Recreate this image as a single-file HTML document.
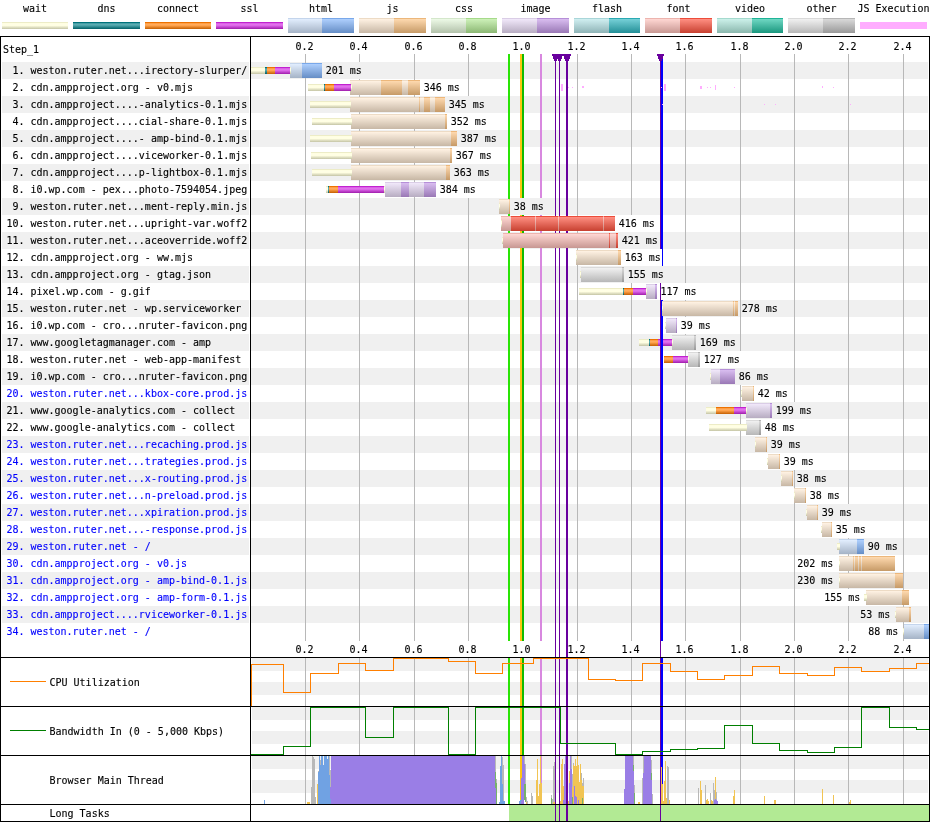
<!DOCTYPE html>
<html lang="en"><head><meta charset="utf-8"><title>Waterfall</title>
<style>html,body{margin:0;padding:0;background:#fff}body{width:930px;height:822px;overflow:hidden}svg{display:block;will-change:transform}text{font-family:"DejaVu Sans Mono","Liberation Mono",monospace;font-size:10px;fill:#000;stroke:#000;stroke-width:0.12px}.b text{fill:#00f}.c{text-anchor:middle}</style></head><body>
<svg width="930" height="822" viewBox="0 0 930 822" shape-rendering="crispEdges">
<defs><linearGradient id="g0" x1="0" y1="0" x2="0" y2="1"><stop offset="0" stop-color="rgb(237,236,199)"/><stop offset="0.1429" stop-color="rgb(237,236,199)"/><stop offset="0.1429" stop-color="rgb(255,254,223)"/><stop offset="0.357" stop-color="rgb(255,254,229)"/><stop offset="0.5" stop-color="rgb(255,254,226)"/><stop offset="1" stop-color="rgb(196,196,165)"/></linearGradient><linearGradient id="g1" x1="0" y1="0" x2="0" y2="1"><stop offset="0" stop-color="rgb(0,114,123)"/><stop offset="0.1429" stop-color="rgb(0,114,123)"/><stop offset="0.1429" stop-color="rgb(56,152,159)"/><stop offset="0.357" stop-color="rgb(92,171,176)"/><stop offset="0.5" stop-color="rgb(76,163,169)"/><stop offset="1" stop-color="rgb(0,95,102)"/></linearGradient><linearGradient id="g2" x1="0" y1="0" x2="0" y2="1"><stop offset="0" stop-color="rgb(237,114,0)"/><stop offset="0.1429" stop-color="rgb(237,114,0)"/><stop offset="0.1429" stop-color="rgb(255,152,56)"/><stop offset="0.357" stop-color="rgb(255,171,92)"/><stop offset="0.5" stop-color="rgb(255,163,76)"/><stop offset="1" stop-color="rgb(196,95,0)"/></linearGradient><linearGradient id="g3" x1="0" y1="0" x2="0" y2="1"><stop offset="0" stop-color="rgb(193,34,207)"/><stop offset="0.1429" stop-color="rgb(193,34,207)"/><stop offset="0.1429" stop-color="rgb(218,85,230)"/><stop offset="0.357" stop-color="rgb(224,115,235)"/><stop offset="0.5" stop-color="rgb(221,102,233)"/><stop offset="1" stop-color="rgb(159,28,172)"/></linearGradient><linearGradient id="g4" x1="0" y1="0" x2="0" y2="1"><stop offset="0" stop-color="rgb(196,213,236)"/><stop offset="0.06667" stop-color="rgb(196,213,236)"/><stop offset="0.06667" stop-color="rgb(226,238,254)"/><stop offset="1" stop-color="rgb(165,179,198)"/></linearGradient><linearGradient id="g5" x1="0" y1="0" x2="0" y2="1"><stop offset="0" stop-color="rgb(121,168,234)"/><stop offset="0.06667" stop-color="rgb(121,168,234)"/><stop offset="0.06667" stop-color="rgb(174,207,253)"/><stop offset="1" stop-color="rgb(101,141,197)"/></linearGradient><linearGradient id="g6" x1="0" y1="0" x2="0" y2="1"><stop offset="0" stop-color="rgb(237,219,197)"/><stop offset="0.06667" stop-color="rgb(237,219,197)"/><stop offset="0.06667" stop-color="rgb(255,242,227)"/><stop offset="1" stop-color="rgb(199,183,165)"/></linearGradient><linearGradient id="g7" x1="0" y1="0" x2="0" y2="1"><stop offset="0" stop-color="rgb(236,183,123)"/><stop offset="0.06667" stop-color="rgb(236,183,123)"/><stop offset="0.06667" stop-color="rgb(254,217,175)"/><stop offset="1" stop-color="rgb(198,154,103)"/></linearGradient><linearGradient id="g8" x1="0" y1="0" x2="0" y2="1"><stop offset="0" stop-color="rgb(212,231,203)"/><stop offset="0.06667" stop-color="rgb(212,231,203)"/><stop offset="0.06667" stop-color="rgb(237,250,231)"/><stop offset="1" stop-color="rgb(178,193,170)"/></linearGradient><linearGradient id="g9" x1="0" y1="0" x2="0" y2="1"><stop offset="0" stop-color="rgb(166,218,138)"/><stop offset="0.06667" stop-color="rgb(166,218,138)"/><stop offset="0.06667" stop-color="rgb(205,241,185)"/><stop offset="1" stop-color="rgb(139,183,115)"/></linearGradient><linearGradient id="g10" x1="0" y1="0" x2="0" y2="1"><stop offset="0" stop-color="rgb(218,205,230)"/><stop offset="0.06667" stop-color="rgb(218,205,230)"/><stop offset="0.06667" stop-color="rgb(241,232,250)"/><stop offset="1" stop-color="rgb(183,172,193)"/></linearGradient><linearGradient id="g11" x1="0" y1="0" x2="0" y2="1"><stop offset="0" stop-color="rgb(182,143,216)"/><stop offset="0.06667" stop-color="rgb(182,143,216)"/><stop offset="0.06667" stop-color="rgb(217,189,240)"/><stop offset="1" stop-color="rgb(153,120,181)"/></linearGradient><linearGradient id="g12" x1="0" y1="0" x2="0" y2="1"><stop offset="0" stop-color="rgb(169,214,217)"/><stop offset="0.06667" stop-color="rgb(169,214,217)"/><stop offset="0.06667" stop-color="rgb(208,239,241)"/><stop offset="1" stop-color="rgb(142,179,182)"/></linearGradient><linearGradient id="g13" x1="0" y1="0" x2="0" y2="1"><stop offset="0" stop-color="rgb(42,170,179)"/><stop offset="0.06667" stop-color="rgb(42,170,179)"/><stop offset="0.06667" stop-color="rgb(118,208,215)"/><stop offset="1" stop-color="rgb(35,143,151)"/></linearGradient><linearGradient id="g14" x1="0" y1="0" x2="0" y2="1"><stop offset="0" stop-color="rgb(237,180,174)"/><stop offset="0.06667" stop-color="rgb(237,180,174)"/><stop offset="0.06667" stop-color="rgb(255,215,211)"/><stop offset="1" stop-color="rgb(199,151,146)"/></linearGradient><linearGradient id="g15" x1="0" y1="0" x2="0" y2="1"><stop offset="0" stop-color="rgb(237,76,58)"/><stop offset="0.06667" stop-color="rgb(237,76,58)"/><stop offset="0.06667" stop-color="rgb(255,143,130)"/><stop offset="1" stop-color="rgb(199,64,48)"/></linearGradient><linearGradient id="g16" x1="0" y1="0" x2="0" y2="1"><stop offset="0" stop-color="rgb(165,218,206)"/><stop offset="0.06667" stop-color="rgb(165,218,206)"/><stop offset="0.06667" stop-color="rgb(204,241,234)"/><stop offset="1" stop-color="rgb(138,183,173)"/></linearGradient><linearGradient id="g17" x1="0" y1="0" x2="0" y2="1"><stop offset="0" stop-color="rgb(31,180,151)"/><stop offset="0.06667" stop-color="rgb(31,180,151)"/><stop offset="0.06667" stop-color="rgb(111,215,195)"/><stop offset="1" stop-color="rgb(26,151,126)"/></linearGradient><linearGradient id="g18" x1="0" y1="0" x2="0" y2="1"><stop offset="0" stop-color="rgb(218,218,218)"/><stop offset="0.06667" stop-color="rgb(218,218,218)"/><stop offset="0.06667" stop-color="rgb(241,241,241)"/><stop offset="1" stop-color="rgb(183,183,183)"/></linearGradient><linearGradient id="g19" x1="0" y1="0" x2="0" y2="1"><stop offset="0" stop-color="rgb(182,182,182)"/><stop offset="0.06667" stop-color="rgb(182,182,182)"/><stop offset="0.06667" stop-color="rgb(217,217,217)"/><stop offset="1" stop-color="rgb(153,153,153)"/></linearGradient><linearGradient id="g20" x1="0" y1="0" x2="0" y2="1"><stop offset="0" stop-color="rgb(237,156,147)"/><stop offset="0.06667" stop-color="rgb(237,156,147)"/><stop offset="0.06667" stop-color="rgb(255,198,192)"/><stop offset="1" stop-color="rgb(199,131,123)"/></linearGradient></defs>
<rect x="0" y="0" width="930" height="822" fill="#fff"/>
<text class="c" x="35.0" y="12">wait</text>
<rect x="2" y="22" width="66" height="7" fill="url(#g0)"/>
<text class="c" x="106.5" y="12">dns</text>
<rect x="73" y="22" width="67" height="7" fill="url(#g1)"/>
<text class="c" x="178.0" y="12">connect</text>
<rect x="145" y="22" width="66" height="7" fill="url(#g2)"/>
<text class="c" x="249.5" y="12">ssl</text>
<rect x="216" y="22" width="67" height="7" fill="url(#g3)"/>
<text class="c" x="321.0" y="12">html</text>
<rect x="288" y="18" width="34" height="15" fill="url(#g4)"/>
<rect x="322" y="18" width="32" height="15" fill="url(#g5)"/>
<text class="c" x="392.5" y="12">js</text>
<rect x="359" y="18" width="35" height="15" fill="url(#g6)"/>
<rect x="394" y="18" width="32" height="15" fill="url(#g7)"/>
<text class="c" x="464.0" y="12">css</text>
<rect x="431" y="18" width="35" height="15" fill="url(#g8)"/>
<rect x="466" y="18" width="31" height="15" fill="url(#g9)"/>
<text class="c" x="535.5" y="12">image</text>
<rect x="502" y="18" width="35" height="15" fill="url(#g10)"/>
<rect x="537" y="18" width="32" height="15" fill="url(#g11)"/>
<text class="c" x="607.0" y="12">flash</text>
<rect x="574" y="18" width="35" height="15" fill="url(#g12)"/>
<rect x="609" y="18" width="31" height="15" fill="url(#g13)"/>
<text class="c" x="678.5" y="12">font</text>
<rect x="645" y="18" width="35" height="15" fill="url(#g14)"/>
<rect x="680" y="18" width="32" height="15" fill="url(#g15)"/>
<text class="c" x="750.0" y="12">video</text>
<rect x="717" y="18" width="35" height="15" fill="url(#g16)"/>
<rect x="752" y="18" width="31" height="15" fill="url(#g17)"/>
<text class="c" x="821.5" y="12">other</text>
<rect x="788" y="18" width="35" height="15" fill="url(#g18)"/>
<rect x="823" y="18" width="32" height="15" fill="url(#g19)"/>
<text class="c" x="893.5" y="12">JS Execution</text>
<rect x="860" y="22" width="67" height="7" fill="rgb(255,173,255)"/>
<rect x="2" y="62" width="247" height="17" fill="#f0f0f0"/>
<rect x="251" y="62" width="677" height="17" fill="#f0f0f0"/>
<rect x="2" y="96" width="247" height="17" fill="#f0f0f0"/>
<rect x="251" y="96" width="677" height="17" fill="#f0f0f0"/>
<rect x="2" y="130" width="247" height="17" fill="#f0f0f0"/>
<rect x="251" y="130" width="677" height="17" fill="#f0f0f0"/>
<rect x="2" y="164" width="247" height="17" fill="#f0f0f0"/>
<rect x="251" y="164" width="677" height="17" fill="#f0f0f0"/>
<rect x="2" y="198" width="247" height="17" fill="#f0f0f0"/>
<rect x="251" y="198" width="677" height="17" fill="#f0f0f0"/>
<rect x="2" y="232" width="247" height="17" fill="#f0f0f0"/>
<rect x="251" y="232" width="677" height="17" fill="#f0f0f0"/>
<rect x="2" y="266" width="247" height="17" fill="#f0f0f0"/>
<rect x="251" y="266" width="677" height="17" fill="#f0f0f0"/>
<rect x="2" y="300" width="247" height="17" fill="#f0f0f0"/>
<rect x="251" y="300" width="677" height="17" fill="#f0f0f0"/>
<rect x="2" y="334" width="247" height="17" fill="#f0f0f0"/>
<rect x="251" y="334" width="677" height="17" fill="#f0f0f0"/>
<rect x="2" y="368" width="247" height="17" fill="#f0f0f0"/>
<rect x="251" y="368" width="677" height="17" fill="#f0f0f0"/>
<rect x="2" y="402" width="247" height="17" fill="#f0f0f0"/>
<rect x="251" y="402" width="677" height="17" fill="#f0f0f0"/>
<rect x="2" y="436" width="247" height="17" fill="#f0f0f0"/>
<rect x="251" y="436" width="677" height="17" fill="#f0f0f0"/>
<rect x="2" y="470" width="247" height="17" fill="#f0f0f0"/>
<rect x="251" y="470" width="677" height="17" fill="#f0f0f0"/>
<rect x="2" y="504" width="247" height="17" fill="#f0f0f0"/>
<rect x="251" y="504" width="677" height="17" fill="#f0f0f0"/>
<rect x="2" y="538" width="247" height="17" fill="#f0f0f0"/>
<rect x="251" y="538" width="677" height="17" fill="#f0f0f0"/>
<rect x="2" y="572" width="247" height="17" fill="#f0f0f0"/>
<rect x="251" y="572" width="677" height="17" fill="#f0f0f0"/>
<rect x="2" y="606" width="247" height="17" fill="#f0f0f0"/>
<rect x="251" y="606" width="677" height="17" fill="#f0f0f0"/>
<rect x="252" y="658" width="676" height="13" fill="#f0f0f0"/>
<rect x="252" y="682" width="676" height="13" fill="#f0f0f0"/>
<rect x="252" y="707" width="676" height="13" fill="#f0f0f0"/>
<rect x="252" y="731" width="676" height="13" fill="#f0f0f0"/>
<rect x="252" y="756" width="676" height="13" fill="#f0f0f0"/>
<rect x="252" y="780" width="676" height="13" fill="#f0f0f0"/>
<rect x="305" y="54" width="1" height="587" fill="#b8b8b8"/>
<rect x="305" y="658" width="1" height="146" fill="#b8b8b8"/>
<rect x="359" y="54" width="1" height="587" fill="#b8b8b8"/>
<rect x="359" y="658" width="1" height="146" fill="#b8b8b8"/>
<rect x="414" y="54" width="1" height="587" fill="#b8b8b8"/>
<rect x="414" y="658" width="1" height="146" fill="#b8b8b8"/>
<rect x="468" y="54" width="1" height="587" fill="#b8b8b8"/>
<rect x="468" y="658" width="1" height="146" fill="#b8b8b8"/>
<rect x="522" y="54" width="1" height="587" fill="#b8b8b8"/>
<rect x="522" y="658" width="1" height="146" fill="#b8b8b8"/>
<rect x="577" y="54" width="1" height="587" fill="#b8b8b8"/>
<rect x="577" y="658" width="1" height="146" fill="#b8b8b8"/>
<rect x="631" y="54" width="1" height="587" fill="#b8b8b8"/>
<rect x="631" y="658" width="1" height="146" fill="#b8b8b8"/>
<rect x="685" y="54" width="1" height="587" fill="#b8b8b8"/>
<rect x="685" y="658" width="1" height="146" fill="#b8b8b8"/>
<rect x="740" y="54" width="1" height="587" fill="#b8b8b8"/>
<rect x="740" y="658" width="1" height="146" fill="#b8b8b8"/>
<rect x="794" y="54" width="1" height="587" fill="#b8b8b8"/>
<rect x="794" y="658" width="1" height="146" fill="#b8b8b8"/>
<rect x="848" y="54" width="1" height="587" fill="#b8b8b8"/>
<rect x="848" y="658" width="1" height="146" fill="#b8b8b8"/>
<rect x="903" y="54" width="1" height="587" fill="#b8b8b8"/>
<rect x="903" y="658" width="1" height="146" fill="#b8b8b8"/>
<text class="c" x="304.5" y="50">0.2</text>
<text class="c" x="304.5" y="653">0.2</text>
<text class="c" x="358.5" y="50">0.4</text>
<text class="c" x="358.5" y="653">0.4</text>
<text class="c" x="413.5" y="50">0.6</text>
<text class="c" x="413.5" y="653">0.6</text>
<text class="c" x="467.5" y="50">0.8</text>
<text class="c" x="467.5" y="653">0.8</text>
<text class="c" x="521.5" y="50">1.0</text>
<text class="c" x="521.5" y="653">1.0</text>
<text class="c" x="576.5" y="50">1.2</text>
<text class="c" x="576.5" y="653">1.2</text>
<text class="c" x="630.5" y="50">1.4</text>
<text class="c" x="630.5" y="653">1.4</text>
<text class="c" x="684.5" y="50">1.6</text>
<text class="c" x="684.5" y="653">1.6</text>
<text class="c" x="739.5" y="50">1.8</text>
<text class="c" x="739.5" y="653">1.8</text>
<text class="c" x="793.5" y="50">2.0</text>
<text class="c" x="793.5" y="653">2.0</text>
<text class="c" x="847.5" y="50">2.2</text>
<text class="c" x="847.5" y="653">2.2</text>
<text class="c" x="902.5" y="50">2.4</text>
<text class="c" x="902.5" y="653">2.4</text>
<rect x="251" y="67" width="14" height="7" fill="url(#g0)"/>
<rect x="265" y="67" width="2" height="7" fill="url(#g1)"/>
<rect x="267" y="67" width="8" height="7" fill="url(#g2)"/>
<rect x="275" y="67" width="15" height="7" fill="url(#g3)"/>
<rect x="308" y="84" width="16" height="7" fill="url(#g0)"/>
<rect x="324" y="84" width="1" height="7" fill="url(#g1)"/>
<rect x="325" y="84" width="9" height="7" fill="url(#g2)"/>
<rect x="334" y="84" width="16" height="7" fill="url(#g3)"/>
<rect x="310" y="101" width="40" height="7" fill="url(#g0)"/>
<rect x="312" y="118" width="39" height="7" fill="url(#g0)"/>
<rect x="310" y="135" width="41" height="7" fill="url(#g0)"/>
<rect x="311" y="152" width="40" height="7" fill="url(#g0)"/>
<rect x="312" y="169" width="39" height="7" fill="url(#g0)"/>
<rect x="326" y="186" width="2" height="7" fill="url(#g0)"/>
<rect x="328" y="186" width="1" height="7" fill="url(#g1)"/>
<rect x="329" y="186" width="9" height="7" fill="url(#g2)"/>
<rect x="338" y="186" width="46" height="7" fill="url(#g3)"/>
<rect x="579" y="288" width="44" height="7" fill="url(#g0)"/>
<rect x="623" y="288" width="1" height="7" fill="url(#g1)"/>
<rect x="624" y="288" width="9" height="7" fill="url(#g2)"/>
<rect x="633" y="288" width="13" height="7" fill="url(#g3)"/>
<rect x="639" y="339" width="10" height="7" fill="url(#g0)"/>
<rect x="649" y="339" width="1" height="7" fill="url(#g1)"/>
<rect x="650" y="339" width="8" height="7" fill="url(#g2)"/>
<rect x="658" y="339" width="14" height="7" fill="url(#g3)"/>
<rect x="664" y="356" width="9" height="7" fill="url(#g2)"/>
<rect x="673" y="356" width="15" height="7" fill="url(#g3)"/>
<rect x="706" y="407" width="10" height="7" fill="url(#g0)"/>
<rect x="716" y="407" width="18" height="7" fill="url(#g2)"/>
<rect x="734" y="407" width="12" height="7" fill="url(#g3)"/>
<rect x="709" y="424" width="37" height="7" fill="url(#g0)"/>
<rect x="837" y="543" width="2" height="7" fill="url(#g0)"/>
<rect x="864" y="594" width="2" height="7" fill="url(#g0)"/>
<rect x="508" y="54" width="2" height="587" fill="rgb(42,228,6)"/>
<rect x="508" y="658" width="2" height="146" fill="rgb(42,228,6)"/>
<rect x="520" y="54" width="2" height="587" fill="rgb(255,198,15)"/>
<rect x="520" y="658" width="2" height="146" fill="rgb(255,198,15)"/>
<rect x="522" y="54" width="2" height="587" fill="rgb(18,186,2)"/>
<rect x="522" y="658" width="2" height="146" fill="rgb(18,186,2)"/>
<rect x="540" y="54" width="2" height="587" fill="rgb(216,136,223)"/>
<rect x="540" y="658" width="2" height="146" fill="rgb(216,136,223)"/>
<rect x="555" y="54" width="1" height="767" fill="rgb(105,0,158)"/>
<rect x="559" y="54" width="1" height="767" fill="rgb(105,0,158)"/>
<rect x="566" y="54" width="2" height="767" fill="rgb(105,0,158)"/>
<rect x="660" y="54" width="1" height="767" fill="rgb(105,0,158)"/>
<rect x="661" y="54" width="2" height="587" fill="rgb(0,0,255)"/>
<rect x="661" y="658" width="2" height="146" fill="rgb(0,0,255)"/>
<rect x="552" y="54" width="7" height="2" fill="rgb(105,0,158)"/>
<rect x="553" y="56" width="5" height="3" fill="rgb(105,0,158)"/>
<rect x="554" y="59" width="3" height="2" fill="rgb(105,0,158)"/>
<rect x="556" y="54" width="7" height="2" fill="rgb(105,0,158)"/>
<rect x="557" y="56" width="5" height="3" fill="rgb(105,0,158)"/>
<rect x="558" y="59" width="3" height="2" fill="rgb(105,0,158)"/>
<rect x="563" y="54" width="8" height="2" fill="rgb(105,0,158)"/>
<rect x="564" y="56" width="6" height="3" fill="rgb(105,0,158)"/>
<rect x="565" y="59" width="4" height="2" fill="rgb(105,0,158)"/>
<rect x="657" y="54" width="7" height="2" fill="rgb(105,0,158)"/>
<rect x="658" y="56" width="5" height="3" fill="rgb(105,0,158)"/>
<rect x="659" y="59" width="3" height="2" fill="rgb(105,0,158)"/>
<rect x="561" y="84" width="2" height="7" fill="rgb(255,173,255)"/>
<rect x="568" y="87" width="1" height="1" fill="rgb(255,173,255)"/>
<rect x="572" y="87" width="1" height="1" fill="rgb(255,173,255)"/>
<rect x="582" y="86" width="2" height="2" fill="rgb(255,173,255)"/>
<rect x="661" y="87" width="1" height="1" fill="rgb(255,173,255)"/>
<rect x="664" y="84" width="2" height="7" fill="rgb(255,173,255)"/>
<rect x="700" y="86" width="2" height="3" fill="rgb(255,173,255)"/>
<rect x="707" y="87" width="1" height="1" fill="rgb(255,173,255)"/>
<rect x="710" y="87" width="1" height="1" fill="rgb(255,173,255)"/>
<rect x="715" y="85" width="1" height="5" fill="rgb(255,173,255)"/>
<rect x="734" y="87" width="1" height="1" fill="rgb(255,173,255)"/>
<rect x="662" y="104" width="1" height="1" fill="rgb(255,173,255)"/>
<rect x="764" y="104" width="1" height="1" fill="rgb(255,173,255)"/>
<rect x="775" y="104" width="1" height="1" fill="rgb(255,173,255)"/>
<rect x="822" y="86" width="1" height="2" fill="rgb(255,173,255)"/>
<rect x="833" y="87" width="1" height="1" fill="rgb(255,173,255)"/>
<rect x="850" y="104" width="1" height="1" fill="rgb(255,173,255)"/>
<rect x="290" y="63" width="12" height="15" fill="url(#g4)"/>
<rect x="302" y="63" width="20" height="15" fill="url(#g5)"/>
<rect x="290" y="67" width="1" height="7" fill="url(#g0)"/>
<rect x="350" y="80" width="31" height="15" fill="url(#g6)"/>
<rect x="381" y="80" width="21" height="15" fill="url(#g7)"/>
<rect x="402" y="80" width="6" height="15" fill="url(#g6)"/>
<rect x="408" y="80" width="12" height="15" fill="url(#g7)"/>
<rect x="350" y="84" width="1" height="7" fill="url(#g3)"/>
<rect x="351" y="84" width="1" height="7" fill="url(#g0)"/>
<rect x="350" y="97" width="69" height="15" fill="url(#g6)"/>
<rect x="419" y="97" width="1" height="15" fill="url(#g7)"/>
<rect x="420" y="97" width="4" height="15" fill="url(#g6)"/>
<rect x="424" y="97" width="6" height="15" fill="url(#g7)"/>
<rect x="430" y="97" width="5" height="15" fill="url(#g6)"/>
<rect x="435" y="97" width="10" height="15" fill="url(#g7)"/>
<rect x="350" y="101" width="1" height="7" fill="url(#g0)"/>
<rect x="351" y="114" width="94" height="15" fill="url(#g6)"/>
<rect x="445" y="114" width="2" height="15" fill="url(#g7)"/>
<rect x="351" y="118" width="1" height="7" fill="url(#g0)"/>
<rect x="351" y="131" width="100" height="15" fill="url(#g6)"/>
<rect x="451" y="131" width="6" height="15" fill="url(#g7)"/>
<rect x="351" y="135" width="1" height="7" fill="url(#g0)"/>
<rect x="351" y="148" width="99" height="15" fill="url(#g6)"/>
<rect x="450" y="148" width="2" height="15" fill="url(#g7)"/>
<rect x="351" y="152" width="1" height="7" fill="url(#g0)"/>
<rect x="351" y="165" width="95" height="15" fill="url(#g6)"/>
<rect x="446" y="165" width="4" height="15" fill="url(#g7)"/>
<rect x="351" y="169" width="1" height="7" fill="url(#g0)"/>
<rect x="385" y="182" width="16" height="15" fill="url(#g10)"/>
<rect x="401" y="182" width="8" height="15" fill="url(#g11)"/>
<rect x="409" y="182" width="15" height="15" fill="url(#g10)"/>
<rect x="424" y="182" width="12" height="15" fill="url(#g11)"/>
<rect x="384" y="186" width="1" height="7" fill="url(#g0)"/>
<rect x="499" y="199" width="10" height="15" fill="url(#g6)"/>
<rect x="509" y="199" width="1" height="15" fill="url(#g7)"/>
<rect x="499" y="203" width="1" height="7" fill="url(#g0)"/>
<rect x="501" y="216" width="10" height="15" fill="url(#g14)"/>
<rect x="511" y="216" width="104" height="15" fill="url(#g15)"/>
<rect x="535" y="216" width="1" height="15" fill="url(#g20)"/>
<rect x="558" y="216" width="1" height="15" fill="url(#g20)"/>
<rect x="603" y="216" width="1" height="15" fill="url(#g20)"/>
<rect x="501" y="220" width="1" height="7" fill="url(#g0)"/>
<rect x="503" y="233" width="106" height="15" fill="url(#g14)"/>
<rect x="609" y="233" width="1" height="15" fill="url(#g15)"/>
<rect x="610" y="233" width="6" height="15" fill="url(#g14)"/>
<rect x="616" y="233" width="2" height="15" fill="url(#g15)"/>
<rect x="502" y="237" width="1" height="7" fill="url(#g0)"/>
<rect x="576" y="250" width="42" height="15" fill="url(#g6)"/>
<rect x="618" y="250" width="3" height="15" fill="url(#g7)"/>
<rect x="576" y="254" width="1" height="7" fill="url(#g0)"/>
<rect x="581" y="267" width="41" height="15" fill="url(#g18)"/>
<rect x="622" y="267" width="2" height="15" fill="url(#g19)"/>
<rect x="580" y="271" width="1" height="7" fill="url(#g0)"/>
<rect x="646" y="284" width="9" height="15" fill="url(#g10)"/>
<rect x="655" y="284" width="2" height="15" fill="url(#g11)"/>
<rect x="646" y="288" width="1" height="7" fill="url(#g0)"/>
<rect x="662" y="301" width="71" height="15" fill="url(#g6)"/>
<rect x="733" y="301" width="1" height="15" fill="url(#g7)"/>
<rect x="734" y="301" width="1" height="15" fill="url(#g6)"/>
<rect x="735" y="301" width="3" height="15" fill="url(#g7)"/>
<rect x="662" y="305" width="1" height="7" fill="url(#g0)"/>
<rect x="666" y="318" width="10" height="15" fill="url(#g10)"/>
<rect x="676" y="318" width="1" height="15" fill="url(#g11)"/>
<rect x="665" y="322" width="1" height="7" fill="url(#g0)"/>
<rect x="672" y="335" width="22" height="15" fill="url(#g18)"/>
<rect x="694" y="335" width="2" height="15" fill="url(#g19)"/>
<rect x="672" y="339" width="1" height="7" fill="url(#g0)"/>
<rect x="688" y="352" width="10" height="15" fill="url(#g18)"/>
<rect x="698" y="352" width="2" height="15" fill="url(#g19)"/>
<rect x="688" y="356" width="1" height="7" fill="url(#g0)"/>
<rect x="711" y="369" width="9" height="15" fill="url(#g10)"/>
<rect x="720" y="369" width="15" height="15" fill="url(#g11)"/>
<rect x="710" y="373" width="1" height="7" fill="url(#g0)"/>
<rect x="742" y="386" width="11" height="15" fill="url(#g6)"/>
<rect x="753" y="386" width="1" height="15" fill="url(#g7)"/>
<rect x="741" y="390" width="1" height="7" fill="url(#g0)"/>
<rect x="746" y="403" width="24" height="15" fill="url(#g10)"/>
<rect x="770" y="403" width="2" height="15" fill="url(#g11)"/>
<rect x="746" y="407" width="1" height="7" fill="url(#g0)"/>
<rect x="746" y="420" width="13" height="15" fill="url(#g18)"/>
<rect x="759" y="420" width="2" height="15" fill="url(#g19)"/>
<rect x="746" y="424" width="1" height="7" fill="url(#g0)"/>
<rect x="755" y="437" width="11" height="15" fill="url(#g6)"/>
<rect x="766" y="437" width="1" height="15" fill="url(#g7)"/>
<rect x="755" y="441" width="1" height="7" fill="url(#g0)"/>
<rect x="768" y="454" width="11" height="15" fill="url(#g6)"/>
<rect x="779" y="454" width="1" height="15" fill="url(#g7)"/>
<rect x="767" y="458" width="1" height="7" fill="url(#g0)"/>
<rect x="781" y="471" width="11" height="15" fill="url(#g6)"/>
<rect x="792" y="471" width="1" height="15" fill="url(#g7)"/>
<rect x="781" y="475" width="1" height="7" fill="url(#g0)"/>
<rect x="794" y="488" width="11" height="15" fill="url(#g6)"/>
<rect x="805" y="488" width="1" height="15" fill="url(#g7)"/>
<rect x="794" y="492" width="1" height="7" fill="url(#g0)"/>
<rect x="807" y="505" width="10" height="15" fill="url(#g6)"/>
<rect x="817" y="505" width="1" height="15" fill="url(#g7)"/>
<rect x="806" y="509" width="1" height="7" fill="url(#g0)"/>
<rect x="822" y="522" width="9" height="15" fill="url(#g6)"/>
<rect x="831" y="522" width="1" height="15" fill="url(#g7)"/>
<rect x="821" y="526" width="1" height="7" fill="url(#g0)"/>
<rect x="839" y="539" width="18" height="15" fill="url(#g4)"/>
<rect x="857" y="539" width="7" height="15" fill="url(#g5)"/>
<rect x="839" y="543" width="1" height="7" fill="url(#g0)"/>
<rect x="839" y="556" width="14" height="15" fill="url(#g6)"/>
<rect x="853" y="556" width="1" height="15" fill="url(#g7)"/>
<rect x="854" y="556" width="1" height="15" fill="url(#g6)"/>
<rect x="855" y="556" width="3" height="15" fill="url(#g7)"/>
<rect x="858" y="556" width="1" height="15" fill="url(#g6)"/>
<rect x="859" y="556" width="2" height="15" fill="url(#g7)"/>
<rect x="861" y="556" width="1" height="15" fill="url(#g6)"/>
<rect x="862" y="556" width="33" height="15" fill="url(#g7)"/>
<rect x="839" y="560" width="1" height="7" fill="url(#g0)"/>
<rect x="839" y="573" width="56" height="15" fill="url(#g6)"/>
<rect x="895" y="573" width="8" height="15" fill="url(#g7)"/>
<rect x="839" y="577" width="1" height="7" fill="url(#g0)"/>
<rect x="866" y="590" width="36" height="15" fill="url(#g6)"/>
<rect x="902" y="590" width="7" height="15" fill="url(#g7)"/>
<rect x="866" y="594" width="1" height="7" fill="url(#g0)"/>
<rect x="896" y="607" width="13" height="15" fill="url(#g6)"/>
<rect x="909" y="607" width="2" height="15" fill="url(#g7)"/>
<rect x="895" y="611" width="1" height="7" fill="url(#g0)"/>
<rect x="904" y="624" width="20" height="15" fill="url(#g4)"/>
<rect x="924" y="624" width="5" height="15" fill="url(#g5)"/>
<rect x="903" y="628" width="1" height="7" fill="url(#g0)"/>
<rect x="326" y="62" width="37" height="17" fill="#f0f0f0"/>
<text x="325.7" y="74">201 ms</text>
<rect x="424" y="79" width="37" height="17" fill="#fff"/>
<text x="423.7" y="91">346 ms</text>
<rect x="449" y="96" width="37" height="17" fill="#f0f0f0"/>
<text x="448.7" y="108">345 ms</text>
<rect x="451" y="113" width="37" height="17" fill="#fff"/>
<text x="450.7" y="125">352 ms</text>
<rect x="461" y="130" width="37" height="17" fill="#f0f0f0"/>
<text x="460.7" y="142">387 ms</text>
<rect x="456" y="147" width="37" height="17" fill="#fff"/>
<text x="455.7" y="159">367 ms</text>
<rect x="454" y="164" width="37" height="17" fill="#f0f0f0"/>
<text x="453.7" y="176">363 ms</text>
<rect x="440" y="181" width="37" height="17" fill="#fff"/>
<text x="439.7" y="193">384 ms</text>
<rect x="514" y="198" width="31" height="17" fill="#f0f0f0"/>
<text x="513.7" y="210">38 ms</text>
<rect x="619" y="215" width="37" height="17" fill="#fff"/>
<text x="618.7" y="227">416 ms</text>
<rect x="622" y="232" width="37" height="17" fill="#f0f0f0"/>
<text x="621.7" y="244">421 ms</text>
<rect x="625" y="249" width="37" height="17" fill="#fff"/>
<text x="624.7" y="261">163 ms</text>
<rect x="628" y="266" width="37" height="17" fill="#f0f0f0"/>
<text x="627.7" y="278">155 ms</text>
<rect x="661" y="283" width="37" height="17" fill="#fff"/>
<text x="660.5" y="295">117 ms</text>
<rect x="742" y="300" width="37" height="17" fill="#f0f0f0"/>
<text x="741.7" y="312">278 ms</text>
<rect x="681" y="317" width="31" height="17" fill="#fff"/>
<text x="680.7" y="329">39 ms</text>
<rect x="700" y="334" width="37" height="17" fill="#f0f0f0"/>
<text x="699.7" y="346">169 ms</text>
<rect x="704" y="351" width="37" height="17" fill="#fff"/>
<text x="703.7" y="363">127 ms</text>
<rect x="739" y="368" width="31" height="17" fill="#f0f0f0"/>
<text x="738.7" y="380">86 ms</text>
<rect x="758" y="385" width="31" height="17" fill="#fff"/>
<text x="757.7" y="397">42 ms</text>
<rect x="776" y="402" width="37" height="17" fill="#f0f0f0"/>
<text x="775.7" y="414">199 ms</text>
<rect x="765" y="419" width="31" height="17" fill="#fff"/>
<text x="764.7" y="431">48 ms</text>
<rect x="771" y="436" width="31" height="17" fill="#f0f0f0"/>
<text x="770.7" y="448">39 ms</text>
<rect x="784" y="453" width="31" height="17" fill="#fff"/>
<text x="783.7" y="465">39 ms</text>
<rect x="797" y="470" width="31" height="17" fill="#f0f0f0"/>
<text x="796.7" y="482">38 ms</text>
<rect x="810" y="487" width="31" height="17" fill="#fff"/>
<text x="809.7" y="499">38 ms</text>
<rect x="822" y="504" width="31" height="17" fill="#f0f0f0"/>
<text x="821.7" y="516">39 ms</text>
<rect x="836" y="521" width="31" height="17" fill="#fff"/>
<text x="835.7" y="533">35 ms</text>
<rect x="868" y="538" width="31" height="17" fill="#f0f0f0"/>
<text x="867.7" y="550">90 ms</text>
<rect x="797" y="555" width="37" height="17" fill="#fff"/>
<text x="797.2" y="567">202 ms</text>
<rect x="797" y="572" width="37" height="17" fill="#f0f0f0"/>
<text x="797.2" y="584">230 ms</text>
<rect x="824" y="589" width="37" height="17" fill="#fff"/>
<text x="824.2" y="601">155 ms</text>
<rect x="860" y="606" width="31" height="17" fill="#f0f0f0"/>
<text x="860.2" y="618">53 ms</text>
<rect x="868" y="623" width="31" height="17" fill="#fff"/>
<text x="868.2" y="635">88 ms</text>
<text x="3" y="53">Step_1</text>
<text x="6.4" y="74" xml:space="preserve"> 1. weston.ruter.net...irectory-slurper/</text>
<text x="6.4" y="91" xml:space="preserve"> 2. cdn.ampproject.org - v0.mjs</text>
<text x="6.4" y="108" xml:space="preserve"> 3. cdn.ampproject....-analytics-0.1.mjs</text>
<text x="6.4" y="125" xml:space="preserve"> 4. cdn.ampproject....cial-share-0.1.mjs</text>
<text x="6.4" y="142" xml:space="preserve"> 5. cdn.ampproject....- amp-bind-0.1.mjs</text>
<text x="6.4" y="159" xml:space="preserve"> 6. cdn.ampproject....viceworker-0.1.mjs</text>
<text x="6.4" y="176" xml:space="preserve"> 7. cdn.ampproject....p-lightbox-0.1.mjs</text>
<text x="6.4" y="193" xml:space="preserve"> 8. i0.wp.com - pex...photo-7594054.jpeg</text>
<text x="6.4" y="210" xml:space="preserve"> 9. weston.ruter.net...ment-reply.min.js</text>
<text x="6.4" y="227" xml:space="preserve">10. weston.ruter.net...upright-var.woff2</text>
<text x="6.4" y="244" xml:space="preserve">11. weston.ruter.net...aceoverride.woff2</text>
<text x="6.4" y="261" xml:space="preserve">12. cdn.ampproject.org - ww.mjs</text>
<text x="6.4" y="278" xml:space="preserve">13. cdn.ampproject.org - gtag.json</text>
<text x="6.4" y="295" xml:space="preserve">14. pixel.wp.com - g.gif</text>
<text x="6.4" y="312" xml:space="preserve">15. weston.ruter.net - wp.serviceworker</text>
<text x="6.4" y="329" xml:space="preserve">16. i0.wp.com - cro...nruter-favicon.png</text>
<text x="6.4" y="346" xml:space="preserve">17. www.googletagmanager.com - amp</text>
<text x="6.4" y="363" xml:space="preserve">18. weston.ruter.net - web-app-manifest</text>
<text x="6.4" y="380" xml:space="preserve">19. i0.wp.com - cro...nruter-favicon.png</text>
<text x="6.4" y="397" xml:space="preserve" style="fill:#00f;stroke:#00f">20. weston.ruter.net...kbox-core.prod.js</text>
<text x="6.4" y="414" xml:space="preserve">21. www.google-analytics.com - collect</text>
<text x="6.4" y="431" xml:space="preserve">22. www.google-analytics.com - collect</text>
<text x="6.4" y="448" xml:space="preserve" style="fill:#00f;stroke:#00f">23. weston.ruter.net...recaching.prod.js</text>
<text x="6.4" y="465" xml:space="preserve" style="fill:#00f;stroke:#00f">24. weston.ruter.net...trategies.prod.js</text>
<text x="6.4" y="482" xml:space="preserve" style="fill:#00f;stroke:#00f">25. weston.ruter.net...x-routing.prod.js</text>
<text x="6.4" y="499" xml:space="preserve" style="fill:#00f;stroke:#00f">26. weston.ruter.net...n-preload.prod.js</text>
<text x="6.4" y="516" xml:space="preserve" style="fill:#00f;stroke:#00f">27. weston.ruter.net...xpiration.prod.js</text>
<text x="6.4" y="533" xml:space="preserve" style="fill:#00f;stroke:#00f">28. weston.ruter.net...-response.prod.js</text>
<text x="6.4" y="550" xml:space="preserve" style="fill:#00f;stroke:#00f">29. weston.ruter.net - /</text>
<text x="6.4" y="567" xml:space="preserve" style="fill:#00f;stroke:#00f">30. cdn.ampproject.org - v0.js</text>
<text x="6.4" y="584" xml:space="preserve" style="fill:#00f;stroke:#00f">31. cdn.ampproject.org - amp-bind-0.1.js</text>
<text x="6.4" y="601" xml:space="preserve" style="fill:#00f;stroke:#00f">32. cdn.ampproject.org - amp-form-0.1.js</text>
<text x="6.4" y="618" xml:space="preserve" style="fill:#00f;stroke:#00f">33. cdn.ampproject....rviceworker-0.1.js</text>
<text x="6.4" y="635" xml:space="preserve" style="fill:#00f;stroke:#00f">34. weston.ruter.net - /</text>
<text x="49.5" y="686">CPU Utilization</text>
<text x="49.5" y="735">Bandwidth In (0 - 5,000 Kbps)</text>
<text x="49.5" y="784">Browser Main Thread</text>
<text x="49.5" y="817">Long Tasks</text>
<rect x="10" y="681" width="36" height="1" fill="rgb(255,127,0)"/>
<rect x="10" y="730" width="36" height="1" fill="rgb(0,127,0)"/>
<rect x="251" y="664" width="1" height="42" fill="rgb(255,127,0)"/>
<rect x="251" y="664" width="33" height="1" fill="rgb(255,127,0)"/>
<rect x="283" y="664" width="1" height="29" fill="rgb(255,127,0)"/>
<rect x="283" y="692" width="28" height="1" fill="rgb(255,127,0)"/>
<rect x="310" y="673" width="1" height="20" fill="rgb(255,127,0)"/>
<rect x="310" y="673" width="29" height="1" fill="rgb(255,127,0)"/>
<rect x="338" y="663" width="1" height="11" fill="rgb(255,127,0)"/>
<rect x="338" y="663" width="28" height="1" fill="rgb(255,127,0)"/>
<rect x="365" y="663" width="1" height="8" fill="rgb(255,127,0)"/>
<rect x="365" y="670" width="29" height="1" fill="rgb(255,127,0)"/>
<rect x="393" y="658" width="1" height="13" fill="rgb(255,127,0)"/>
<rect x="393" y="658" width="56" height="1" fill="rgb(255,127,0)"/>
<rect x="448" y="658" width="1" height="4" fill="rgb(255,127,0)"/>
<rect x="448" y="661" width="28" height="1" fill="rgb(255,127,0)"/>
<rect x="475" y="661" width="1" height="13" fill="rgb(255,127,0)"/>
<rect x="475" y="673" width="28" height="1" fill="rgb(255,127,0)"/>
<rect x="502" y="663" width="1" height="11" fill="rgb(255,127,0)"/>
<rect x="502" y="663" width="32" height="1" fill="rgb(255,127,0)"/>
<rect x="533" y="658" width="1" height="6" fill="rgb(255,127,0)"/>
<rect x="533" y="658" width="56" height="1" fill="rgb(255,127,0)"/>
<rect x="588" y="658" width="1" height="22" fill="rgb(255,127,0)"/>
<rect x="588" y="679" width="28" height="1" fill="rgb(255,127,0)"/>
<rect x="615" y="679" width="1" height="2" fill="rgb(255,127,0)"/>
<rect x="615" y="680" width="28" height="1" fill="rgb(255,127,0)"/>
<rect x="642" y="663" width="1" height="18" fill="rgb(255,127,0)"/>
<rect x="642" y="663" width="29" height="1" fill="rgb(255,127,0)"/>
<rect x="670" y="663" width="1" height="9" fill="rgb(255,127,0)"/>
<rect x="670" y="671" width="28" height="1" fill="rgb(255,127,0)"/>
<rect x="697" y="671" width="1" height="9" fill="rgb(255,127,0)"/>
<rect x="697" y="679" width="28" height="1" fill="rgb(255,127,0)"/>
<rect x="724" y="675" width="1" height="5" fill="rgb(255,127,0)"/>
<rect x="724" y="675" width="29" height="1" fill="rgb(255,127,0)"/>
<rect x="752" y="666" width="1" height="10" fill="rgb(255,127,0)"/>
<rect x="752" y="666" width="28" height="1" fill="rgb(255,127,0)"/>
<rect x="779" y="666" width="1" height="8" fill="rgb(255,127,0)"/>
<rect x="779" y="673" width="29" height="1" fill="rgb(255,127,0)"/>
<rect x="807" y="673" width="1" height="3" fill="rgb(255,127,0)"/>
<rect x="807" y="675" width="28" height="1" fill="rgb(255,127,0)"/>
<rect x="834" y="667" width="1" height="9" fill="rgb(255,127,0)"/>
<rect x="834" y="667" width="28" height="1" fill="rgb(255,127,0)"/>
<rect x="861" y="667" width="1" height="5" fill="rgb(255,127,0)"/>
<rect x="861" y="671" width="29" height="1" fill="rgb(255,127,0)"/>
<rect x="889" y="668" width="1" height="4" fill="rgb(255,127,0)"/>
<rect x="889" y="668" width="28" height="1" fill="rgb(255,127,0)"/>
<rect x="916" y="663" width="1" height="6" fill="rgb(255,127,0)"/>
<rect x="916" y="663" width="13" height="1" fill="rgb(255,127,0)"/>
<rect x="251" y="754" width="1" height="1" fill="rgb(0,127,0)"/>
<rect x="251" y="754" width="33" height="1" fill="rgb(0,127,0)"/>
<rect x="283" y="746" width="1" height="9" fill="rgb(0,127,0)"/>
<rect x="283" y="746" width="28" height="1" fill="rgb(0,127,0)"/>
<rect x="310" y="707" width="1" height="40" fill="rgb(0,127,0)"/>
<rect x="310" y="707" width="56" height="1" fill="rgb(0,127,0)"/>
<rect x="365" y="707" width="1" height="31" fill="rgb(0,127,0)"/>
<rect x="365" y="737" width="29" height="1" fill="rgb(0,127,0)"/>
<rect x="393" y="707" width="1" height="31" fill="rgb(0,127,0)"/>
<rect x="393" y="707" width="56" height="1" fill="rgb(0,127,0)"/>
<rect x="448" y="707" width="1" height="48" fill="rgb(0,127,0)"/>
<rect x="448" y="754" width="28" height="1" fill="rgb(0,127,0)"/>
<rect x="475" y="707" width="1" height="48" fill="rgb(0,127,0)"/>
<rect x="475" y="707" width="86" height="1" fill="rgb(0,127,0)"/>
<rect x="560" y="707" width="1" height="37" fill="rgb(0,127,0)"/>
<rect x="560" y="743" width="56" height="1" fill="rgb(0,127,0)"/>
<rect x="615" y="743" width="1" height="12" fill="rgb(0,127,0)"/>
<rect x="615" y="754" width="28" height="1" fill="rgb(0,127,0)"/>
<rect x="642" y="751" width="1" height="4" fill="rgb(0,127,0)"/>
<rect x="642" y="751" width="29" height="1" fill="rgb(0,127,0)"/>
<rect x="670" y="749" width="1" height="3" fill="rgb(0,127,0)"/>
<rect x="670" y="749" width="28" height="1" fill="rgb(0,127,0)"/>
<rect x="697" y="748" width="1" height="2" fill="rgb(0,127,0)"/>
<rect x="697" y="748" width="28" height="1" fill="rgb(0,127,0)"/>
<rect x="724" y="725" width="1" height="24" fill="rgb(0,127,0)"/>
<rect x="724" y="725" width="29" height="1" fill="rgb(0,127,0)"/>
<rect x="752" y="725" width="1" height="19" fill="rgb(0,127,0)"/>
<rect x="752" y="743" width="28" height="1" fill="rgb(0,127,0)"/>
<rect x="779" y="743" width="1" height="8" fill="rgb(0,127,0)"/>
<rect x="779" y="750" width="29" height="1" fill="rgb(0,127,0)"/>
<rect x="807" y="750" width="1" height="3" fill="rgb(0,127,0)"/>
<rect x="807" y="752" width="28" height="1" fill="rgb(0,127,0)"/>
<rect x="834" y="747" width="1" height="6" fill="rgb(0,127,0)"/>
<rect x="834" y="747" width="28" height="1" fill="rgb(0,127,0)"/>
<rect x="861" y="707" width="1" height="41" fill="rgb(0,127,0)"/>
<rect x="861" y="707" width="29" height="1" fill="rgb(0,127,0)"/>
<rect x="889" y="707" width="1" height="21" fill="rgb(0,127,0)"/>
<rect x="889" y="727" width="28" height="1" fill="rgb(0,127,0)"/>
<rect x="916" y="727" width="1" height="3" fill="rgb(0,127,0)"/>
<rect x="916" y="729" width="13" height="1" fill="rgb(0,127,0)"/>
<rect x="264" y="800" width="1" height="4" fill="rgb(112,162,227)"/>
<rect x="307" y="802" width="1" height="2" fill="rgb(241,196,83)"/>
<rect x="308" y="802" width="1" height="2" fill="rgb(241,196,83)"/>
<rect x="309" y="802" width="1" height="2" fill="rgb(241,196,83)"/>
<rect x="311" y="787" width="1" height="17" fill="rgb(184,184,184)"/>
<rect x="312" y="756" width="1" height="48" fill="rgb(184,184,184)"/>
<rect x="313" y="757" width="1" height="47" fill="rgb(184,184,184)"/>
<rect x="314" y="759" width="1" height="45" fill="rgb(184,184,184)"/>
<rect x="315" y="797" width="1" height="7" fill="rgb(184,184,184)"/>
<rect x="317" y="784" width="1" height="20" fill="rgb(241,196,83)"/>
<rect x="318" y="771" width="1" height="1" fill="rgb(184,184,184)"/>
<rect x="318" y="772" width="1" height="32" fill="rgb(112,162,227)"/>
<rect x="319" y="756" width="1" height="48" fill="rgb(112,162,227)"/>
<rect x="320" y="760" width="1" height="5" fill="rgb(184,184,184)"/>
<rect x="320" y="765" width="1" height="39" fill="rgb(112,162,227)"/>
<rect x="321" y="756" width="1" height="48" fill="rgb(112,162,227)"/>
<rect x="322" y="756" width="1" height="48" fill="rgb(112,162,227)"/>
<rect x="323" y="765" width="1" height="39" fill="rgb(112,162,227)"/>
<rect x="324" y="756" width="1" height="48" fill="rgb(112,162,227)"/>
<rect x="325" y="756" width="1" height="48" fill="rgb(112,162,227)"/>
<rect x="326" y="756" width="1" height="48" fill="rgb(112,162,227)"/>
<rect x="327" y="759" width="1" height="45" fill="rgb(112,162,227)"/>
<rect x="328" y="756" width="1" height="48" fill="rgb(112,162,227)"/>
<rect x="329" y="756" width="1" height="19" fill="rgb(184,184,184)"/>
<rect x="329" y="775" width="1" height="29" fill="rgb(112,162,227)"/>
<rect x="330" y="770" width="1" height="17" fill="rgb(184,184,184)"/>
<rect x="330" y="787" width="1" height="12" fill="rgb(154,126,230)"/>
<rect x="330" y="799" width="1" height="5" fill="rgb(112,162,227)"/>
<rect x="331" y="756" width="164" height="48" fill="rgb(154,126,230)"/>
<rect x="495" y="756" width="1" height="16" fill="rgb(184,184,184)"/>
<rect x="495" y="772" width="1" height="16" fill="rgb(118,178,106)"/>
<rect x="495" y="788" width="1" height="16" fill="rgb(154,126,230)"/>
<rect x="496" y="779" width="1" height="4" fill="rgb(184,184,184)"/>
<rect x="496" y="783" width="1" height="21" fill="rgb(118,178,106)"/>
<rect x="499" y="802" width="1" height="2" fill="rgb(112,162,227)"/>
<rect x="500" y="766" width="1" height="38" fill="rgb(112,162,227)"/>
<rect x="501" y="756" width="1" height="48" fill="rgb(112,162,227)"/>
<rect x="502" y="757" width="1" height="27" fill="rgb(184,184,184)"/>
<rect x="502" y="784" width="1" height="20" fill="rgb(112,162,227)"/>
<rect x="503" y="765" width="1" height="36" fill="rgb(184,184,184)"/>
<rect x="503" y="801" width="1" height="3" fill="rgb(112,162,227)"/>
<rect x="504" y="801" width="1" height="3" fill="rgb(112,162,227)"/>
<rect x="519" y="801" width="1" height="3" fill="rgb(112,162,227)"/>
<rect x="520" y="800" width="1" height="4" fill="rgb(112,162,227)"/>
<rect x="521" y="778" width="1" height="21" fill="rgb(154,126,230)"/>
<rect x="521" y="799" width="1" height="2" fill="rgb(112,162,227)"/>
<rect x="521" y="801" width="1" height="3" fill="rgb(154,126,230)"/>
<rect x="522" y="756" width="1" height="48" fill="rgb(154,126,230)"/>
<rect x="523" y="756" width="1" height="48" fill="rgb(154,126,230)"/>
<rect x="524" y="756" width="1" height="8" fill="rgb(184,184,184)"/>
<rect x="524" y="764" width="1" height="20" fill="rgb(154,126,230)"/>
<rect x="524" y="784" width="1" height="16" fill="rgb(118,178,106)"/>
<rect x="525" y="764" width="1" height="20" fill="rgb(184,184,184)"/>
<rect x="525" y="784" width="1" height="18" fill="rgb(118,178,106)"/>
<rect x="526" y="797" width="1" height="5" fill="rgb(184,184,184)"/>
<rect x="526" y="802" width="1" height="2" fill="rgb(241,196,83)"/>
<rect x="527" y="801" width="1" height="3" fill="rgb(184,184,184)"/>
<rect x="531" y="793" width="1" height="11" fill="rgb(184,184,184)"/>
<rect x="532" y="796" width="1" height="8" fill="rgb(184,184,184)"/>
<rect x="536" y="780" width="1" height="24" fill="rgb(241,196,83)"/>
<rect x="537" y="759" width="1" height="45" fill="rgb(241,196,83)"/>
<rect x="538" y="796" width="1" height="8" fill="rgb(241,196,83)"/>
<rect x="539" y="784" width="1" height="20" fill="rgb(241,196,83)"/>
<rect x="540" y="756" width="1" height="48" fill="rgb(241,196,83)"/>
<rect x="541" y="783" width="1" height="21" fill="rgb(241,196,83)"/>
<rect x="551" y="795" width="1" height="3" fill="rgb(184,184,184)"/>
<rect x="551" y="798" width="1" height="6" fill="rgb(118,178,106)"/>
<rect x="552" y="799" width="1" height="5" fill="rgb(184,184,184)"/>
<rect x="553" y="766" width="1" height="36" fill="rgb(184,184,184)"/>
<rect x="553" y="802" width="1" height="2" fill="rgb(241,196,83)"/>
<rect x="554" y="762" width="1" height="40" fill="rgb(184,184,184)"/>
<rect x="554" y="802" width="1" height="2" fill="rgb(241,196,83)"/>
<rect x="560" y="801" width="1" height="3" fill="rgb(241,196,83)"/>
<rect x="561" y="764" width="1" height="40" fill="rgb(241,196,83)"/>
<rect x="562" y="759" width="1" height="45" fill="rgb(241,196,83)"/>
<rect x="563" y="786" width="1" height="14" fill="rgb(241,196,83)"/>
<rect x="563" y="800" width="1" height="4" fill="rgb(154,126,230)"/>
<rect x="564" y="764" width="1" height="40" fill="rgb(154,126,230)"/>
<rect x="565" y="756" width="1" height="48" fill="rgb(154,126,230)"/>
<rect x="568" y="801" width="1" height="3" fill="rgb(241,196,83)"/>
<rect x="569" y="771" width="1" height="12" fill="rgb(241,196,83)"/>
<rect x="569" y="783" width="1" height="21" fill="rgb(154,126,230)"/>
<rect x="570" y="756" width="1" height="48" fill="rgb(154,126,230)"/>
<rect x="571" y="756" width="1" height="13" fill="rgb(184,184,184)"/>
<rect x="571" y="769" width="1" height="35" fill="rgb(154,126,230)"/>
<rect x="572" y="774" width="1" height="13" fill="rgb(184,184,184)"/>
<rect x="572" y="787" width="1" height="10" fill="rgb(241,196,83)"/>
<rect x="572" y="797" width="1" height="7" fill="rgb(118,178,106)"/>
<rect x="573" y="763" width="1" height="2" fill="rgb(184,184,184)"/>
<rect x="573" y="765" width="1" height="39" fill="rgb(241,196,83)"/>
<rect x="574" y="766" width="1" height="20" fill="rgb(241,196,83)"/>
<rect x="574" y="786" width="1" height="18" fill="rgb(154,126,230)"/>
<rect x="575" y="759" width="1" height="37" fill="rgb(241,196,83)"/>
<rect x="575" y="796" width="1" height="8" fill="rgb(154,126,230)"/>
<rect x="576" y="766" width="1" height="31" fill="rgb(241,196,83)"/>
<rect x="576" y="797" width="1" height="7" fill="rgb(154,126,230)"/>
<rect x="577" y="756" width="1" height="48" fill="rgb(241,196,83)"/>
<rect x="578" y="765" width="1" height="35" fill="rgb(241,196,83)"/>
<rect x="578" y="800" width="1" height="4" fill="rgb(154,126,230)"/>
<rect x="579" y="782" width="1" height="22" fill="rgb(241,196,83)"/>
<rect x="580" y="764" width="1" height="40" fill="rgb(241,196,83)"/>
<rect x="581" y="773" width="1" height="7" fill="rgb(184,184,184)"/>
<rect x="581" y="780" width="1" height="24" fill="rgb(241,196,83)"/>
<rect x="582" y="783" width="1" height="3" fill="rgb(184,184,184)"/>
<rect x="582" y="786" width="1" height="12" fill="rgb(241,196,83)"/>
<rect x="582" y="798" width="1" height="6" fill="rgb(118,178,106)"/>
<rect x="583" y="778" width="1" height="8" fill="rgb(184,184,184)"/>
<rect x="583" y="786" width="1" height="18" fill="rgb(241,196,83)"/>
<rect x="624" y="789" width="1" height="15" fill="rgb(154,126,230)"/>
<rect x="625" y="756" width="8" height="48" fill="rgb(154,126,230)"/>
<rect x="633" y="756" width="1" height="9" fill="rgb(184,184,184)"/>
<rect x="633" y="765" width="1" height="6" fill="rgb(118,178,106)"/>
<rect x="633" y="771" width="1" height="33" fill="rgb(154,126,230)"/>
<rect x="634" y="785" width="1" height="8" fill="rgb(184,184,184)"/>
<rect x="634" y="793" width="1" height="11" fill="rgb(118,178,106)"/>
<rect x="638" y="802" width="1" height="2" fill="rgb(241,196,83)"/>
<rect x="639" y="802" width="1" height="2" fill="rgb(241,196,83)"/>
<rect x="642" y="778" width="1" height="26" fill="rgb(184,184,184)"/>
<rect x="643" y="756" width="1" height="17" fill="rgb(184,184,184)"/>
<rect x="643" y="773" width="1" height="31" fill="rgb(154,126,230)"/>
<rect x="644" y="756" width="7" height="48" fill="rgb(154,126,230)"/>
<rect x="651" y="760" width="1" height="13" fill="rgb(184,184,184)"/>
<rect x="651" y="773" width="1" height="7" fill="rgb(118,178,106)"/>
<rect x="651" y="780" width="1" height="24" fill="rgb(154,126,230)"/>
<rect x="652" y="794" width="1" height="10" fill="rgb(184,184,184)"/>
<rect x="661" y="767" width="1" height="37" fill="rgb(241,196,83)"/>
<rect x="662" y="784" width="1" height="20" fill="rgb(241,196,83)"/>
<rect x="663" y="801" width="1" height="3" fill="rgb(241,196,83)"/>
<rect x="664" y="781" width="1" height="23" fill="rgb(241,196,83)"/>
<rect x="665" y="761" width="1" height="43" fill="rgb(241,196,83)"/>
<rect x="666" y="798" width="1" height="6" fill="rgb(241,196,83)"/>
<rect x="667" y="766" width="1" height="38" fill="rgb(184,184,184)"/>
<rect x="668" y="767" width="1" height="37" fill="rgb(184,184,184)"/>
<rect x="669" y="800" width="1" height="4" fill="rgb(241,196,83)"/>
<rect x="698" y="788" width="1" height="16" fill="rgb(184,184,184)"/>
<rect x="700" y="781" width="1" height="23" fill="rgb(241,196,83)"/>
<rect x="701" y="790" width="1" height="14" fill="rgb(241,196,83)"/>
<rect x="705" y="785" width="1" height="19" fill="rgb(184,184,184)"/>
<rect x="706" y="800" width="1" height="4" fill="rgb(241,196,83)"/>
<rect x="707" y="799" width="1" height="5" fill="rgb(241,196,83)"/>
<rect x="708" y="801" width="1" height="3" fill="rgb(241,196,83)"/>
<rect x="710" y="793" width="1" height="11" fill="rgb(184,184,184)"/>
<rect x="711" y="800" width="1" height="4" fill="rgb(241,196,83)"/>
<rect x="712" y="801" width="1" height="3" fill="rgb(241,196,83)"/>
<rect x="713" y="783" width="1" height="21" fill="rgb(184,184,184)"/>
<rect x="714" y="790" width="1" height="10" fill="rgb(184,184,184)"/>
<rect x="714" y="800" width="1" height="4" fill="rgb(154,126,230)"/>
<rect x="715" y="777" width="1" height="22" fill="rgb(241,196,83)"/>
<rect x="715" y="799" width="1" height="5" fill="rgb(154,126,230)"/>
<rect x="716" y="792" width="1" height="8" fill="rgb(184,184,184)"/>
<rect x="716" y="800" width="1" height="4" fill="rgb(154,126,230)"/>
<rect x="717" y="801" width="1" height="3" fill="rgb(154,126,230)"/>
<rect x="733" y="796" width="1" height="8" fill="rgb(241,196,83)"/>
<rect x="734" y="790" width="1" height="14" fill="rgb(241,196,83)"/>
<rect x="764" y="796" width="1" height="8" fill="rgb(241,196,83)"/>
<rect x="774" y="800" width="1" height="4" fill="rgb(241,196,83)"/>
<rect x="775" y="800" width="1" height="4" fill="rgb(241,196,83)"/>
<rect x="822" y="789" width="1" height="15" fill="rgb(241,196,83)"/>
<rect x="833" y="795" width="1" height="9" fill="rgb(241,196,83)"/>
<rect x="849" y="802" width="1" height="2" fill="rgb(241,196,83)"/>
<rect x="850" y="800" width="1" height="4" fill="rgb(241,196,83)"/>
<rect x="509" y="805" width="420" height="16" fill="rgb(178,234,148)"/>
<rect x="555" y="804" width="1" height="17" fill="rgb(105,0,158)"/>
<rect x="559" y="804" width="1" height="17" fill="rgb(105,0,158)"/>
<rect x="566" y="804" width="2" height="17" fill="rgb(105,0,158)"/>
<rect x="660" y="804" width="1" height="17" fill="rgb(105,0,158)"/>
<rect x="0" y="36" width="930" height="1" fill="#000"/>
<rect x="0" y="36" width="1" height="786" fill="#000"/>
<rect x="929" y="36" width="1" height="786" fill="#000"/>
<rect x="0" y="821" width="930" height="1" fill="#000"/>
<rect x="250" y="36" width="1" height="786" fill="#000"/>
<rect x="0" y="657" width="930" height="1" fill="#000"/>
<rect x="0" y="706" width="930" height="1" fill="#000"/>
<rect x="0" y="755" width="930" height="1" fill="#000"/>
<rect x="0" y="804" width="930" height="1" fill="#000"/>
</svg></body></html>
